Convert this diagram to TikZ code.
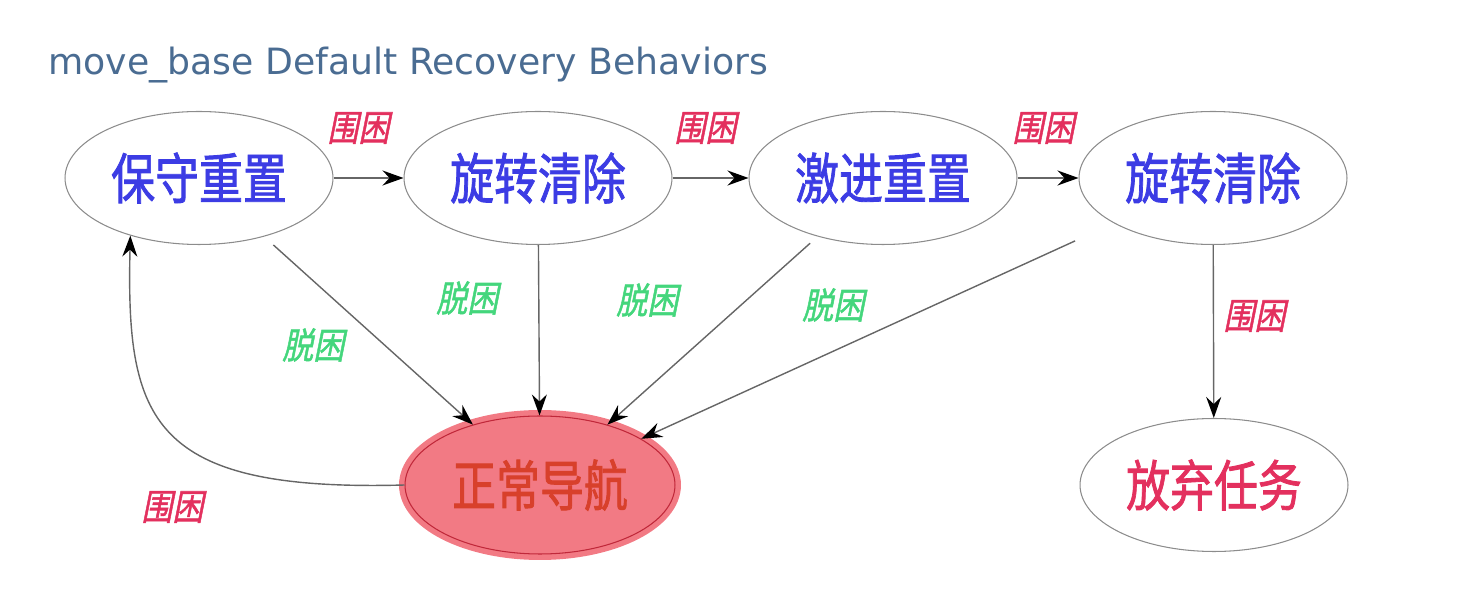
\documentclass[tikz,border=0pt]{standalone}
\usepackage{fontspec}
\usepackage{graphicx}
\setmainfont{DejaVu Sans}
\newfontfamily\cjk{Noto Sans CJK SC}[FakeBold=1.6]
\usetikzlibrary{shapes.geometric,arrows.meta}
\definecolor{titleblue}{HTML}{4A6C92}
\definecolor{nodeblue}{HTML}{3C3CE4}
\definecolor{navred}{HTML}{D8402B}
\definecolor{navfill}{HTML}{F27A84}
\definecolor{navline}{HTML}{C0283A}
\definecolor{stuckred}{HTML}{E3305E}
\definecolor{freegreen}{HTML}{44D67C}
\begin{document}
\begin{tikzpicture}[x=0.02cm, y=-0.02cm,
  state/.style={ellipse, draw=black!45, line width=0.6pt, inner sep=0pt,
    minimum width=5.36cm, minimum height=2.66cm,
    font=\cjk\fontsize{25}{25}\selectfont, text=nodeblue},
  edge/.style={draw=black!60, line width=0.8pt, -{Stealth[length=0.42cm, width=0.3cm, inset=0.14cm, black]}},
  stuck/.style={font=\cjk\fontsize{17.6}{18}\selectfont, text=stuckred, xslant=0.2, inner sep=0pt},
  free/.style={font=\cjk\fontsize{17.6}{18}\selectfont, text=freegreen, xslant=0.2, inner sep=0pt}]
\useasboundingbox (0, 0) rectangle (1468, 614);
\node[anchor=base west, inner sep=0pt, text=titleblue, font=\fontsize{20.6}{22}\selectfont] (title) at (48, 75) {move\_base Default Recovery Behaviors};
\node[state] (conservative) at (199, 178) {\scalebox{1}[1.25]{保守重置}};
\node[state] (rotateA) at (538, 178) {\scalebox{1}[1.25]{旋转清除}};
\node[state] (aggressive) at (883, 178) {\scalebox{1}[1.25]{激进重置}};
\node[state] (rotateB) at (1213, 178) {\scalebox{1}[1.25]{旋转清除}};
\node[state, minimum width=5.4cm, minimum height=2.76cm, fill=navfill, draw=navline,
  preaction={draw=navfill, line width=0.24cm}, text=navred] (navigate) at (540, 485) {\scalebox{1}[1.25]{正常导航}};
\node[state, text=stuckred] (abort) at (1214, 485) {\scalebox{1}[1.25]{放弃任务}};
\draw[edge] (conservative) -- (rotateA);
\draw[edge] (rotateA) -- (aggressive);
\draw[edge] (aggressive) -- (rotateB);
\draw[edge] (rotateB) -- (abort);
\draw[edge, shorten <=0.25cm] (conservative) -- (navigate);
\draw[edge] (rotateA) -- (navigate);
\draw[edge, shorten <=0.2cm] (aggressive) -- (navigate);
\draw[edge, shorten <=0.85cm] (rotateB) -- (navigate);
\draw[edge] (navigate.west) .. controls (150, 492) and (126, 420) .. (conservative.220);
\node[stuck] (stuckA) at (361, 128) {\scalebox{1}[1.17]{围困}};
\node[stuck] (stuckB) at (708, 128) {\scalebox{1}[1.17]{围困}};
\node[stuck] (stuckC) at (1046, 128) {\scalebox{1}[1.17]{围困}};
\node[stuck] (stuckD) at (1257, 316) {\scalebox{1}[1.17]{围困}};
\node[stuck] (stuckE) at (175, 507) {\scalebox{1}[1.17]{围困}};
\node[free] (freeA) at (316, 345) {\scalebox{1}[1.17]{脱困}};
\node[free] (freeB) at (470, 298) {\scalebox{1}[1.17]{脱困}};
\node[free] (freeC) at (650, 300) {\scalebox{1}[1.17]{脱困}};
\node[free] (freeD) at (836, 305) {\scalebox{1}[1.17]{脱困}};
\end{tikzpicture}
\end{document}
